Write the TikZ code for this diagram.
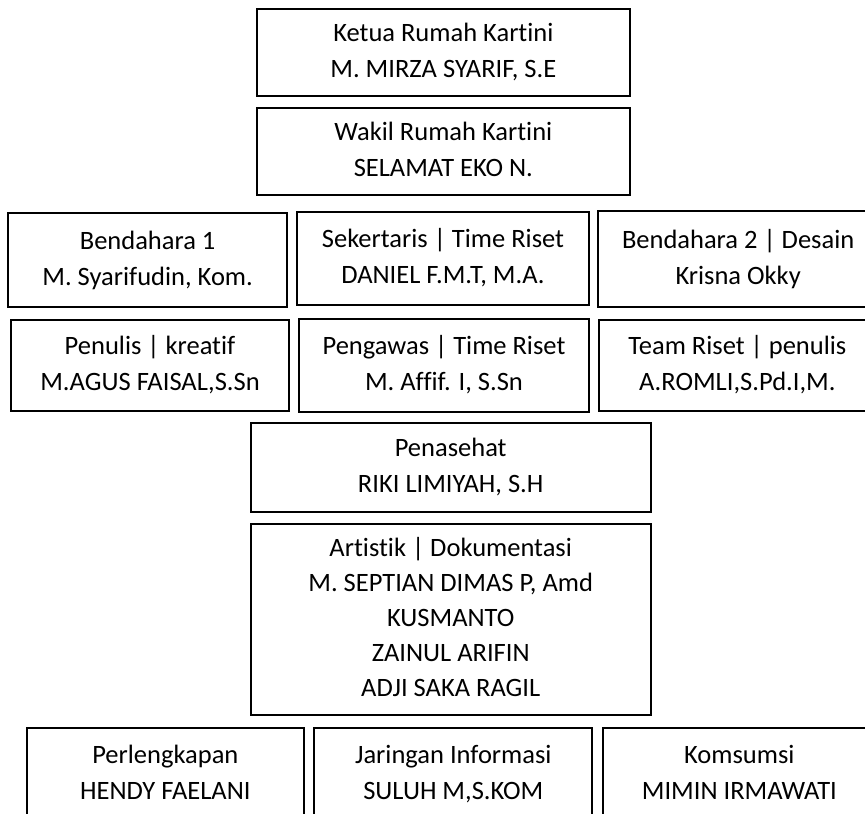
\documentclass[tikz,border=0pt]{standalone}
\usepackage{fontspec}
\setmainfont{Carlito}[Ligatures=CommonOff]
\begin{document}
\begin{tikzpicture}[x=1pt,y=1pt,
  box/.style={draw=black, line width=1.9pt, rectangle, inner sep=0pt, align=center,
    font=\fontsize{26.5}{36}\selectfont},
]
\useasboundingbox (0,0) rectangle (865,-814);
\clip (0,0) rectangle (865,-814);
\node[box, minimum width=373.3, minimum height=86.7] (ketua) at (443.35,-52.35)
  {\strut Ketua Rumah Kartini\\\strut M. MIRZA SYARIF, S.E};
\node[box, minimum width=373.3, minimum height=86.7] (wakil) at (443.35,-151.65)
  {\strut Wakil Rumah Kartini\\\strut SELAMAT EKO N.};
\node[box, minimum width=279.3, minimum height=94] (bend1) at (147.65,-260)
  {\strut Bendahara 1\\\strut M. Syarifudin, Kom.};
\node[box, minimum width=292.6, minimum height=93.3] (sekr) at (443,-258.65)
  {\strut Sekertaris | Time Riset\\\strut DANIEL F.M.T, M.A.};
\node[box, minimum width=279.7, minimum height=96] (bend2) at (738.15,-259.3)
  {\strut Bendahara 2 | Desain\\\strut Krisna Okky};
\node[box, minimum width=277.4, minimum height=90.7] (penulis) at (150,-365.35)
  {\strut Penulis | kreatif\\\strut M.AGUS FAISAL,S.Sn};
\node[box, minimum width=290.6, minimum height=92.7] (pengawas) at (444,-365.65)
  {\strut Pengawas | Time Riset\\\strut M. Affif. I, S.Sn};
\node[box, minimum width=277.3, minimum height=90.7] (team) at (737.35,-365.35)
  {\strut Team Riset | penulis\\\strut A.ROMLI,S.Pd.I,M.};
\node[box, minimum width=400, minimum height=89.5] (penasehat) at (450.7,-467.45)
  {\strut Penasehat\\\strut RIKI LIMIYAH, S.H};
\node[box, minimum width=400, minimum height=191, font=\fontsize{26.5}{35}\selectfont] (artistik) at (450.7,-619.5)
  {\strut Artistik | Dokumentasi\\\strut M. SEPTIAN DIMAS P, Amd\\\strut KUSMANTO\\\strut ZAINUL ARIFIN\\\strut ADJI SAKA RAGIL};
\node[box, minimum width=277.3, minimum height=91.7] (perl) at (165.35,-774.15)
  {\strut Perlengkapan\\\strut HENDY FAELANI};
\node[box, minimum width=278, minimum height=91.7] (jar) at (453.3,-774.15)
  {\strut Jaringan Informasi\\\strut SULUH M,S.KOM};
\node[box, minimum width=273.3, minimum height=91.7] (kons) at (739.35,-774.15)
  {\strut Komsumsi\\\strut MIMIN IRMAWATI};
\end{tikzpicture}
\end{document}
